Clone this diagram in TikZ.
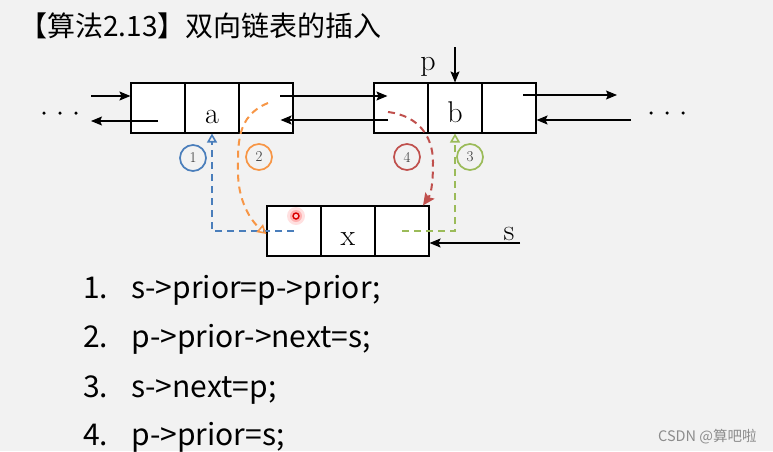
\documentclass[tikz,border=0pt]{standalone}
\usepackage{fontspec}
\newfontfamily\cjk{Noto Sans CJK SC}
\usetikzlibrary{arrows.meta,calc}
\definecolor{bg}{HTML}{F2F2F2}
\definecolor{cblue}{HTML}{4A7EBB}
\definecolor{corange}{HTML}{F79646}
\definecolor{cred}{HTML}{C0504D}
\definecolor{cgreen}{HTML}{9BBB59}
\tikzset{
  cell/.style={draw, fill=white, line width=1.1pt, minimum width=54pt, minimum height=50pt, inner sep=0pt},
  arr/.style={line width=1.1pt, -{Stealth[length=11pt,width=9pt,inset=2pt]}},
  dsh/.style={line width=2pt, dash pattern=on 7pt off 5pt},
  opentip/.style={-{Triangle[open,length=9pt,width=10pt,line width=1.6pt]}},
  num/.style={circle, draw=#1, line width=1.7pt, minimum size=26pt, inner sep=0pt, font=\fontsize{15}{15}\selectfont, text=black!80},
  code/.style={anchor=base west, font=\cjk\fontsize{30}{30}\selectfont, inner sep=0pt},
  dot/.style={circle, fill=black, inner sep=0pt, minimum size=3.5pt},
  lbl/.style={anchor=base, font=\fontsize{30}{30}\selectfont, inner sep=0pt}
}
\begin{document}
\begin{tikzpicture}[x=1pt,y=-1pt]
\fill[bg] (0,0) rectangle (773,451);
\useasboundingbox (0,0) rectangle (773,451);
% title
\node[anchor=base west, inner sep=0pt, font=\cjk\fontsize{28}{28}\selectfont] (title) at (19,36) {【算法2.13】双向链表的插入};
% nodes a
\node[cell] (a1) at (158,108) {};
\node[cell] (a2) at (212,108) {};
\node[cell] (a3) at (266,108) {};
\node[lbl] (la) at (212,123) {a};
% nodes b
\node[cell] (b1) at (401,108) {};
\node[cell] (b2) at (455,108) {};
\node[cell] (b3) at (509,108) {};
\node[lbl] (lb) at (455,122) {b};
% node x
\node[cell] (x1) at (294,231) {};
\node[cell] (x2) at (348,231) {};
\node[cell] (x3) at (402,231) {};
\node[lbl] (lx) at (348,245) {x};
% dots
\node[dot] (d1) at (44,113) {};
\node[dot] (d2) at (60,113) {};
\node[dot] (d3) at (76,113) {};
\node[dot] (d4) at (651,113) {};
\node[dot] (d5) at (667,113) {};
\node[dot] (d6) at (683,113) {};
% black links
\coordinate (lin) at (91,96);
\coordinate (lout) at (91,121);
\draw[arr] (lin) -- (lin -| a1.west);
\draw[arr] (a1.center |- lout) -- (lout);
\draw[arr] ([shift={(14,-12)}]a3.center) -- ([shift={(14,-12)}]a3.center -| b1.west);
\draw[arr] ([shift={(-13,12)}]b1.center) -- ([shift={(-13,12)}]b1.center -| a3.east);
\coordinate (rout) at (617,95);
\coordinate (rin) at (631,120);
\draw[arr] ([shift={(14,-13)}]b3.center) -- (rout);
\draw[arr] (rin) -- (rin -| b3.east);
% p pointer
\coordinate (ptop) at (455,47);
\node[lbl] (p) at (428,70) {p};
\draw[arr] (ptop) -- (b2.north);
% s pointer
\coordinate (sstart) at (520,243);
\node[lbl] (s) at (509,240) {s};
\draw[arr] (sstart) -- (sstart -| x3.east);
% 1 blue
\draw[dsh, cblue, opentip] (x1.center) -| (a2.south);
\node[num=cblue] (c1) at (193,158) {1};
% 2 orange
\draw[dsh, corange, opentip] ([shift={(2,-5)}]a3.center) .. controls (236,116) and (238,145) .. (238,172) .. controls (238,200) and (250,220) .. ([yshift=-3pt]x1.west);
\node[num=corange] (c2) at (259,157) {2};
% 4 red
\draw[dsh, cred, -{Stealth[length=12pt,width=11pt,inset=2pt]}] ([shift={(-13,4)}]b1.center) .. controls (420,116) and (433,138) .. (433,162) .. controls (433,184) and (431,194) .. ([xshift=21pt]x3.north);
\node[num=cred] (c4) at (407,157) {4};
% 3 green
\draw[dsh, cgreen, opentip] (x3.center) -| (b2.south);
\node[num=cgreen] (c3) at (470,157) {3};
% laser dot
\fill[red, opacity=0.12] (296,216) circle (9pt);
\fill[red, opacity=0.2] (296,216) circle (6pt);
\node[circle, draw=red!85!black, fill=red!20, line width=1.4pt, minimum size=6pt, inner sep=0pt] (laser) at (296,216) {};
% code lines
\node[code] (n1) at (83,298) {1.};
\node[code] (t1) at (131,298) {s->prior=p->prior;};
\node[code] (n2) at (83,347) {2.};
\node[code] (t2) at (131,347) {p->prior->next=s;};
\node[code] (n3) at (83,397) {3.};
\node[code] (t3) at (131,397) {s->next=p;};
\node[code] (n4) at (83,445) {4.};
\node[code] (t4) at (131,445) {p->prior=s;};
% watermark
\node[anchor=base west, inner sep=0pt, text=black!45, font=\cjk\fontsize{14.5}{14.5}\selectfont] (wm) at (658,441) {CSDN @算吧啦};
\end{tikzpicture}
\end{document}
